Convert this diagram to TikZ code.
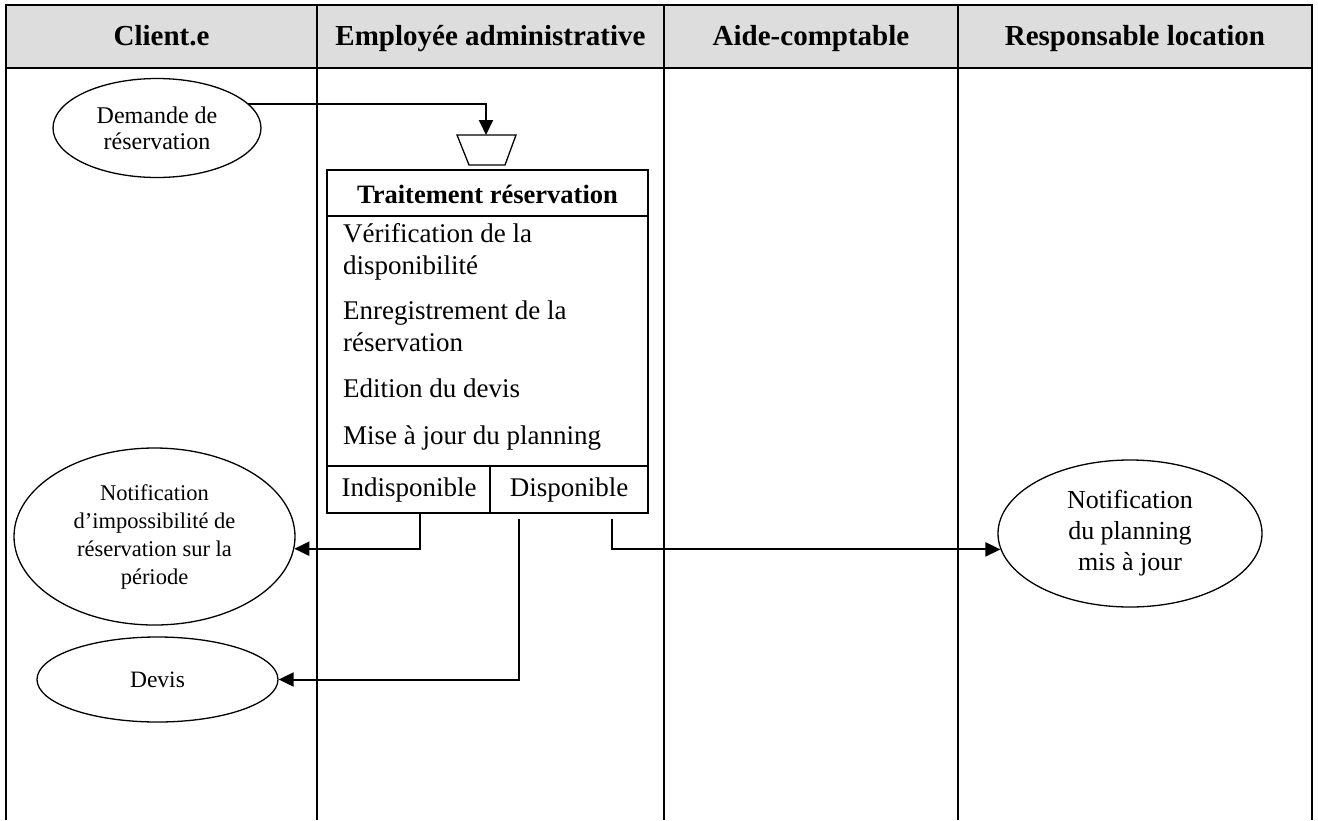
\documentclass[tikz,border=0pt]{standalone}
\usepackage{fontspec}
\setmainfont{Liberation Serif}
\usetikzlibrary{shapes.geometric,arrows.meta}
\definecolor{headgray}{RGB}{221,221,221}
\begin{document}
\begin{tikzpicture}[x=1pt,y=-1pt,
  gridline/.style={line width=1.8pt},
  head/.style={font=\fontsize{29}{33}\selectfont\bfseries, inner sep=0, anchor=base},
  item/.style={anchor=base west, inner sep=0, font=\fontsize{27}{32}\selectfont},
  oval/.style={draw, ellipse, line width=1.3pt, align=center, inner sep=0},
  arr/.style={line width=2pt, -{Triangle[length=15pt,width=14pt]}},
  boxline/.style={line width=2.2pt},
]
\useasboundingbox (0,0) rectangle (1318,820);
% lanes
\fill[headgray] (6,5) rectangle (1312,68);
\draw[gridline] (6,820) -- (6,5) -- (1312,5) -- (1312,820);
\draw[gridline] (6,68) -- (1312,68);
\foreach \x in {317,664,958} \draw[gridline] (\x,5) -- (\x,820);
\node[head] (h1) at (161.5,45) {Client.e};
\node[head] (h2) at (490.5,45) {Employée administrative};
\node[head] (h3) at (811,45) {Aide-comptable};
\node[head] (h4) at (1135,45) {Responsable location};

% ellipses
\node[oval, minimum width=208, minimum height=99, font=\fontsize{24}{26}\selectfont] (dem) at (157,128) {Demande de\\réservation};
\node[oval, minimum width=281, minimum height=177, font=\fontsize{22.5}{28}\selectfont] (notif) at (154.5,536.5) {Notification\\d’impossibilité de\\réservation sur la\\période};
\node[oval, minimum width=241, minimum height=85, font=\fontsize{23.5}{27}\selectfont] (devis) at (157.5,679.5) {Devis};
\node[oval, minimum width=264, minimum height=147, font=\fontsize{26}{31}\selectfont] (nplan) at (1130,533.5) {Notification\\du planning\\mis à jour};

% trapezoid (entry point)
\coordinate (trap) at (486,135);
\draw[line width=1.3pt, line join=miter] (457,135) -- (516,135) -- (505,165) -- (469,165) -- cycle;

% box
\node[draw, boxline, minimum width=321, minimum height=343, inner sep=0] (box) at (487.5,341.5) {};
\draw[boxline] (327,216) -- (648,216);
\draw[boxline] (327,466) -- (648,466);
\draw[boxline] (490,466) -- (490,513);
\node[font=\fontsize{26.5}{30}\selectfont\bfseries, inner sep=0] (title) at (487.5,194) {Traitement réservation};
\node[item] (i1) at (343,242) {Vérification de la};
\node[item] (i1b) at (343,274) {disponibilité};
\node[item] (i2) at (343,319) {Enregistrement de la};
\node[item] (i2b) at (343,351) {réservation};
\node[item] (i3) at (343,397) {Edition du devis};
\node[item] (i4) at (343,444) {Mise à jour du planning};
\node[font=\fontsize{27}{32}\selectfont, inner sep=0] (ind) at (409,490) {Indisponible};
\node[font=\fontsize{27}{32}\selectfont, inner sep=0] (disp) at (569,490) {Disponible};

% connectors
\coordinate (a1) at (420,513);
\coordinate (a2) at (519,519);
\coordinate (a3) at (612,519);
\draw[arr] (dem.15.5) -| (trap);
\draw[arr] (a1) |- (notif.-5.5);
\draw[arr] (a2) |- (devis.east);
\draw[arr] (a3) |- (nplan.187.3);
\end{tikzpicture}
\end{document}
